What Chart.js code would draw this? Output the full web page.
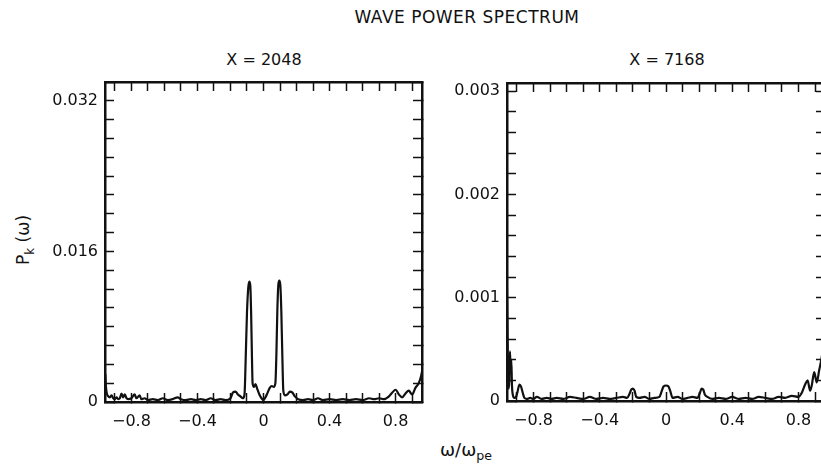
<!DOCTYPE html>
<html>
<head>
<meta charset="utf-8">
<script src="https://cdn.jsdelivr.net/npm/chart.js@4.4.1/dist/chart.umd.min.js"></script>
<style>
    html, body { margin: 0; padding: 0; background: #fff; }
    body { width: 821px; height: 468px; overflow: hidden; position: relative; font-family: "DejaVu Sans", sans-serif; color: #111; }
    canvas { position: absolute; top: 0; }
    #leftChart { left: 0; }
    #rightChart { left: 400px; }
    .label { position: absolute; white-space: nowrap; transform: translate(-50%, -50%); }
    .title { left: 467px; top: 17px; font-size: 17px; letter-spacing: 0.5px; }
    .sub { top: 59px; font-size: 16px; }
    .ytitle { left: 25px; top: 240px; font-size: 17px; transform: translate(-50%, -50%) rotate(-90deg); }
    .xtitle { left: 466px; top: 451px; font-size: 18px; }
    sub { font-size: 70%; }
</style>
</head>
<body>
<div class="label title">WAVE POWER SPECTRUM</div>
<div class="label sub" style="left:264px">X = 2048</div>
<div class="label sub" style="left:667px">X = 7168</div>
<div class="label ytitle">P<sub>k</sub> (ω)</div>
<div class="label xtitle">ω/ω<sub>pe</sub></div>
<canvas id="leftChart" width="440" height="468"></canvas>
<canvas id="rightChart" width="440" height="468"></canvas>
<script>
// X = 2048
const omega1 = [-0.958, -0.955, -0.95, -0.94, -0.93, -0.92, -0.91, -0.90, -0.89, -0.88, -0.87, -0.86, -0.85, -0.84,
    -0.83, -0.82, -0.80, -0.78, -0.77, -0.75, -0.74, -0.72, -0.70, -0.67, -0.64, -0.61, -0.58, -0.55, -0.52, -0.50,
    -0.47, -0.44, -0.41, -0.38, -0.35, -0.32, -0.29, -0.26, -0.23, -0.20, -0.185, -0.17, -0.155, -0.14, -0.125,
    -0.115, -0.108, -0.100, -0.092, -0.086, -0.080, -0.075, -0.070, -0.066, -0.058, -0.048, -0.038, -0.025, -0.012,
    0, 0.012, 0.025, 0.038, 0.05, 0.062, 0.072, 0.078, 0.084, 0.090, 0.096, 0.102, 0.108, 0.114, 0.120, 0.13, 0.145,
    0.16, 0.175, 0.19, 0.21, 0.24, 0.27, 0.30, 0.33, 0.36, 0.40, 0.44, 0.48, 0.52, 0.56, 0.60, 0.64, 0.67, 0.70,
    0.73, 0.76, 0.78, 0.80, 0.82, 0.84, 0.86, 0.88, 0.90, 0.92, 0.94, 0.955, 0.962];
const power1 = [0.0030, 0.0018, 0.0010, 0.0006, 0.0005, 0.0007, 0.0004, 0.0003, 0.0005, 0.0003, 0.0004, 0.0009, 0.0005, 0.0008,
    0.0004, 0.0003, 0.0004, 0.0008, 0.0004, 0.0007, 0.0003, 0.0004, 0.0002, 0.0003, 0.0002, 0.0004, 0.0002, 0.0003, 0.0005, 0.0003,
    0.0002, 0.0003, 0.0002, 0.0003, 0.0002, 0.0004, 0.0002, 0.0003, 0.0002, 0.0004, 0.0010, 0.0011, 0.0008, 0.0006, 0.0004,
    0.0008, 0.0045, 0.0095, 0.0122, 0.0128, 0.0124, 0.0095, 0.0048, 0.0020, 0.0016, 0.0019, 0.0014, 0.0008, 0.0004,
    0.0002, 0.0005, 0.0010, 0.0015, 0.0017, 0.0016, 0.0020, 0.0050, 0.0098, 0.0125, 0.0129, 0.0124, 0.0096, 0.0050, 0.0012, 0.0007, 0.0008,
    0.0011, 0.0010, 0.0006, 0.0003, 0.0002, 0.0003, 0.0002, 0.0004, 0.0002, 0.0003, 0.0002, 0.0003, 0.0002, 0.0003, 0.0002, 0.0004, 0.0003, 0.0004,
    0.0003, 0.0006, 0.0010, 0.0013, 0.0008, 0.0005, 0.0009, 0.0012, 0.0008, 0.0015, 0.0020, 0.0028, 0.0034];

// X = 7168
const omega2 = [-0.962, -0.958, -0.954, -0.950, -0.946, -0.942, -0.938, -0.934, -0.930, -0.925, -0.915, -0.905, -0.895,
    -0.885, -0.875, -0.865, -0.855, -0.84, -0.82, -0.80, -0.78, -0.75, -0.72, -0.69, -0.66, -0.62, -0.58, -0.54, -0.50,
    -0.46, -0.42, -0.38, -0.34, -0.30, -0.26, -0.235, -0.22, -0.21, -0.20, -0.19, -0.18, -0.16, -0.13, -0.10, -0.07,
    -0.04, -0.025, -0.015, 0, 0.015, 0.025, 0.04, 0.07, 0.10, 0.13, 0.16, 0.19, 0.205, 0.215, 0.225, 0.235, 0.25, 0.28,
    0.32, 0.36, 0.40, 0.44, 0.48, 0.52, 0.56, 0.60, 0.64, 0.68, 0.72, 0.76, 0.80, 0.82, 0.84, 0.855, 0.87, 0.88, 0.895,
    0.91, 0.925, 0.94, 0.955];
const power2 = [0.0013, 0.0008, 0.0003, 0.00012, 0.0002, 0.00048, 0.0003, 0.0004, 0.00015, 0.00006, 0.00003, 0.00004, 0.0001,
    0.00016, 0.00014, 0.00008, 0.00003, 0.00002, 0.00003, 0.00002, 0.00004, 0.00002, 0.00003, 0.00002, 0.00003, 0.00002, 0.00004, 0.00003, 0.00002,
    0.00004, 0.00002, 0.00003, 0.00002, 0.00003, 0.00004, 0.00003, 0.00007, 0.00011, 0.00012, 0.0001, 0.00004, 0.00003, 0.00004, 0.00002, 0.00003,
    0.00004, 0.0001, 0.00014, 0.00015, 0.00014, 0.0001, 0.00003, 0.00004, 0.00002, 0.00003, 0.00004, 0.00003, 0.00008, 0.00012, 0.00011, 0.00006, 0.00004, 0.00002,
    0.00003, 0.00002, 0.00004, 0.00002, 0.00003, 0.00002, 0.00004, 0.00003, 0.00002, 0.00004, 0.00003, 0.00005, 0.00004, 0.00008, 0.00016, 0.0002, 0.0001, 0.00015, 0.00028,
    0.00018, 0.0003, 0.00042, 0.0006];

const omegaLabels = [-0.8, -0.4, 0, 0.4, 0.8];
const powerLabels1 = [0, 0.016, 0.032];
const powerLabels2 = [0, 0.001, 0.002, 0.003];

document.addEventListener('DOMContentLoaded', function () {
    const ink = '#111';
    const tickFont = { family: '"DejaVu Sans", sans-serif', size: 16 };

    function matchLabel(value, list) {
        return list.find(v => Math.abs(v - value) < 1e-7);
    }

    function omegaText(value) {
        const v = matchLabel(value, omegaLabels);
        if (v === undefined) return '';
        if (v === 0) return '0';
        return (v < 0 ? '\u2212' : '') + Math.abs(v).toFixed(1);
    }

    function frameGrid() {
        return { display: true, drawOnChartArea: false, drawTicks: true, tickLength: -9, tickColor: ink, tickWidth: 1.5, color: ink };
    }

    function frameBorder() {
        return { display: true, color: ink, width: 2.5 };
    }

    function makePanel(canvasId, omega, power, yMax, yStep, yLabels, box) {
        const ctx = document.getElementById(canvasId);
        const xRange = { type: 'linear', min: -0.96, max: 0.96 };
        return new Chart(ctx, {
            type: 'line',
            data: {
                datasets: [{
                    data: omega.map((w, i) => ({ x: w, y: power[i] })),
                    borderColor: ink,
                    borderWidth: 2.2,
                    pointRadius: 0,
                    cubicInterpolationMode: 'monotone',
                    fill: false
                }]
            },
            options: {
                responsive: false,
                animation: false,
                devicePixelRatio: 1,
                layout: { padding: { left: 0, top: box.top, right: box.right, bottom: 0 } },
                plugins: { legend: { display: false }, tooltip: { enabled: false } },
                scales: {
                    x: {
                        ...xRange,
                        position: 'bottom',
                        grid: frameGrid(),
                        border: frameBorder(),
                        ticks: {
                            stepSize: 0.1, includeBounds: false, autoSkip: false, maxRotation: 0,
                            padding: 19, color: ink, font: tickFont, callback: omegaText
                        },
                        afterFit: s => { s.height = box.bottom; }
                    },
                    xTop: {
                        ...xRange,
                        position: 'top',
                        grid: frameGrid(),
                        border: frameBorder(),
                        ticks: { display: false, stepSize: 0.1, includeBounds: false },
                        afterFit: s => { s.height = 0; }
                    },
                    y: {
                        type: 'linear', min: 0, max: yMax,
                        position: 'left',
                        grid: frameGrid(),
                        border: frameBorder(),
                        ticks: {
                            stepSize: yStep, includeBounds: false, autoSkip: false,
                            padding: 16, color: ink, font: tickFont,
                            callback: value => {
                                const v = matchLabel(value, yLabels);
                                if (v === undefined) return '';
                                return v === 0 ? '0' : v.toFixed(3);
                            }
                        },
                        afterFit: s => { s.width = box.left; }
                    },
                    yRight: {
                        type: 'linear', min: 0, max: yMax,
                        position: 'right',
                        grid: frameGrid(),
                        border: frameBorder(),
                        ticks: { display: false, stepSize: yStep, includeBounds: false },
                        afterFit: s => { s.width = 0; }
                    }
                }
            }
        });
    }

    // plot box: left 105..422, top 82..402 on the page
    makePanel('leftChart', omega1, power1, 0.034, 0.002, powerLabels1, { left: 105, top: 82, right: 18, bottom: 66 });
    // canvas starts at x=400: plot box 507..825, top 83..401
    makePanel('rightChart', omega2, power2, 0.00308, 0.0002, powerLabels2, { left: 107, top: 83, right: 15, bottom: 67 });
});
</script>
</body>
</html>
